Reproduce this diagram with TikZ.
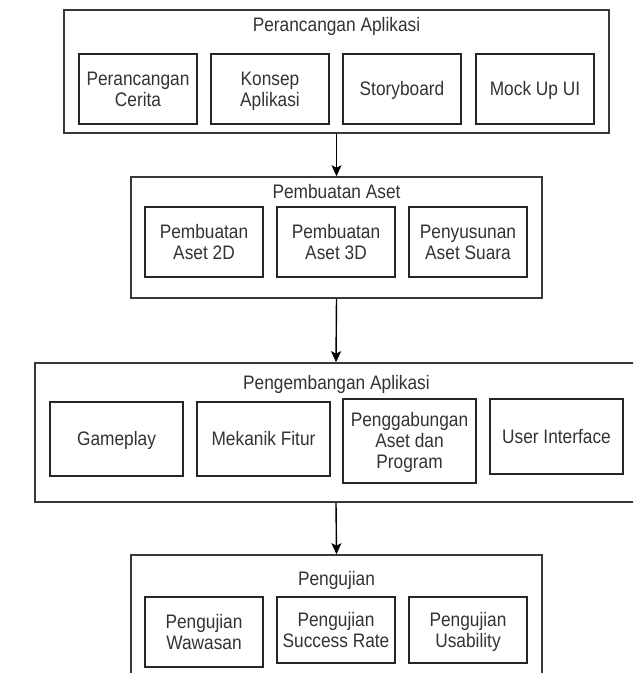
\documentclass[tikz,border=0pt]{standalone}
\usepackage{fontspec}
\usepackage{graphicx}
\setmainfont{Liberation Sans}
\usetikzlibrary{arrows.meta}
\newcommand\vtxt[1]{\raisebox{-2.5pt}[\height][\depth]{\scalebox{1}[1.13]{\begin{tabular}{@{}c@{}}#1\end{tabular}}}}
\begin{document}
\begin{tikzpicture}[x=1pt,y=-1pt,
  font=\fontsize{17.3}{18.8}\selectfont,
  outerbox/.style={draw=black!78,line width=1.6pt,minimum width=#1,inner sep=0pt},
  inbox/.style={draw=black!85,line width=1.6pt,align=center,inner sep=0pt,text=black!80},
  ttl/.style={anchor=base,text=black!80,inner sep=0pt},
  arr/.style={draw=black,line width=1.4pt,-{Stealth[length=11pt,width=10pt,inset=2.5pt]}}]
\useasboundingbox (0,0) rectangle (633,673);
\clip (0,0) rectangle (633,673);
\fill[white] (0,0) rectangle (633,673);
% outer boxes
\node[outerbox=545pt,minimum height=123pt] (A) at (336.5,71.5) {};
\node[outerbox=411pt,minimum height=121pt] (B) at (336.5,237.5) {};
\node[outerbox=602pt,minimum height=139pt] (C) at (336,432.5) {};
\node[outerbox=411pt,minimum height=135pt] (D) at (336.5,622.5) {};
% titles
\node[ttl] (tA) at (336.5,31) {\scalebox{1}[1.13]{Perancangan Aplikasi}};
\node[ttl] (tB) at (336.5,198) {\scalebox{1}[1.13]{Pembuatan Aset}};
\node[ttl] (tC) at (336.5,389) {\scalebox{1}[1.13]{Pengembangan Aplikasi}};
\node[ttl] (tD) at (336.5,585) {\scalebox{1}[1.13]{Pengujian}};
% box A inner
\node[inbox,minimum width=118pt,minimum height=70pt] (a1) at (138,89) {\vtxt{Perancangan\\Cerita}};
\node[inbox,minimum width=118pt,minimum height=70pt] (a2) at (270,89) {\vtxt{Konsep\\Aplikasi}};
\node[inbox,minimum width=118pt,minimum height=70pt] (a3) at (402,89) {\vtxt{Storyboard}};
\node[inbox,minimum width=118pt,minimum height=70pt] (a4) at (535,89) {\vtxt{Mock Up UI}};
% box B inner
\node[inbox,minimum width=118pt,minimum height=70pt] (b1) at (204,242) {\vtxt{Pembuatan\\Aset 2D}};
\node[inbox,minimum width=118pt,minimum height=70pt] (b2) at (336,242) {\vtxt{Pembuatan\\Aset 3D}};
\node[inbox,minimum width=118pt,minimum height=70pt] (b3) at (468,242) {\vtxt{Penyusunan\\Aset Suara}};
% box C inner
\node[inbox,minimum width=133pt,minimum height=74pt] (c1) at (116.5,439) {\vtxt{Gameplay}};
\node[inbox,minimum width=133pt,minimum height=74pt] (c2) at (263.5,439) {\vtxt{Mekanik Fitur}};
\node[inbox,minimum width=133pt,minimum height=84pt] (c3) at (409.5,441) {\vtxt{Penggabungan\\Aset dan\\Program}};
\node[inbox,minimum width=133pt,minimum height=75pt] (c4) at (556.5,436.5) {\vtxt{User Interface}};
% box D inner
\node[inbox,minimum width=118pt,minimum height=70pt] (d1) at (204,632) {\vtxt{Pengujian\\Wawasan}};
\node[inbox,minimum width=118pt,minimum height=66pt] (d2) at (336,630) {\vtxt{Pengujian\\Success Rate}};
\node[inbox,minimum width=118pt,minimum height=66pt] (d3) at (468,630) {\vtxt{Pengujian\\Usability}};
% connectors
\draw[arr] (A.south) -- (B.north);
\draw[arr] (B.south) -- (C.north);
\draw[arr] (C.south) -- (D.north);
\end{tikzpicture}
\end{document}
